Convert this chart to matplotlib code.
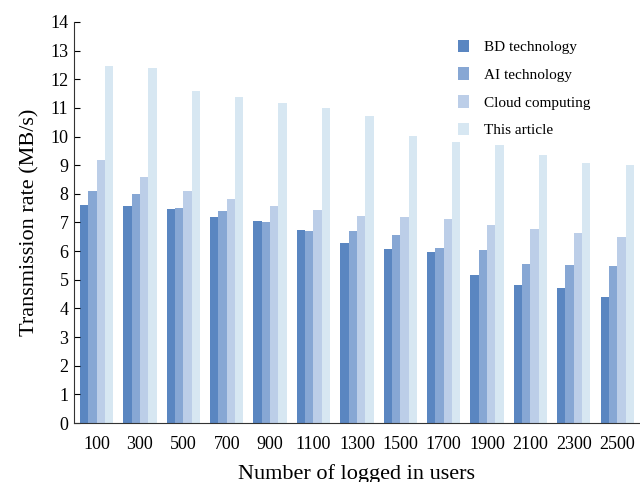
import numpy as np
import matplotlib
matplotlib.use("Agg")
import matplotlib.pyplot as plt

categories = ["100", "300", "500", "700", "900", "1100", "1300", "1500",
              "1700", "1900", "2100", "2300", "2500"]
bd_tech = [7.62, 7.57, 7.47, 7.19, 7.06, 6.74, 6.27, 6.08, 5.96, 5.17, 4.82, 4.72, 4.41]
ai_tech = [8.11, 8.01, 7.52, 7.39, 7.01, 6.69, 6.70, 6.55, 6.11, 6.03, 5.55, 5.51, 5.48]
cloud = [9.17, 8.59, 8.09, 7.81, 7.57, 7.43, 7.23, 7.19, 7.12, 6.90, 6.77, 6.62, 6.48]
this_article = [12.47, 12.38, 11.59, 11.37, 11.17, 11.00, 10.71, 10.03, 9.81, 9.70, 9.37, 9.06, 9.01]

series = [("BD technology", bd_tech, "#5a86c1"),
          ("AI technology", ai_tech, "#87a7d4"),
          ("Cloud computing", cloud, "#bccee8"),
          ("This article", this_article, "#d7e7f2")]

plt.rcParams['font.family'] = ['Liberation Serif', 'DejaVu Serif']

fig = plt.figure(figsize=(6.4, 4.82), dpi=100)
ax = fig.add_axes([0.1156, 0.1224, 0.884, 0.832])

x = np.arange(len(categories))
w = 0.192
for i, (name, vals, col) in enumerate(series):
    ax.bar(x + (i - 1.5) * w, vals, width=w, color=col, label=name, linewidth=0)

ax.set_xlim(-0.52, 12.52)
ax.set_ylim(0, 14)
ax.set_yticks(range(0, 15))
ax.set_xticks(x)
ax.set_xticklabels(categories)
ax.tick_params(axis='y', direction='in', length=4, labelsize=13, pad=4)
ax.tick_params(axis='x', length=0, labelsize=13, pad=9)
for s in ['top', 'right']:
    ax.spines[s].set_visible(False)
ax.spines['left'].set_color('#333333')
ax.spines['bottom'].set_color('#333333')

ax.set_ylabel("Transmission rate (MB/s)", fontsize=16, labelpad=8)
ax.set_xlabel("Number of logged in users", fontsize=16, labelpad=8)

ax.legend(loc='upper left', bbox_to_anchor=(0.655, 0.99), frameon=False,
          fontsize=11, handlelength=0.7, handleheight=0.9, labelspacing=0.85,
          handletextpad=1.0)

fig.savefig("out.png", dpi=100)
